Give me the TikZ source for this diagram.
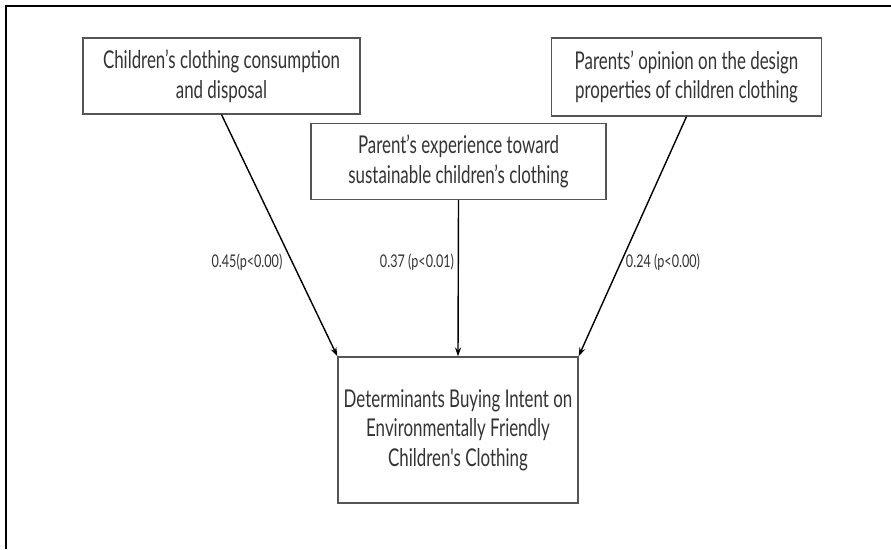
\documentclass[tikz,border=0pt]{standalone}
\usepackage{fontspec}
\setmainfont{Lato}[FakeStretch=0.69,Ligatures=TeXOff]
\newfontfamily\lblfont{Lato}[FakeStretch=0.72]
\usetikzlibrary{arrows.meta,calc}
\definecolor{txt}{HTML}{333333}
\definecolor{edge}{HTML}{555555}
\tikzset{
  box/.style={draw=edge, line width=1.2pt, align=center, text=txt, inner sep=0pt,
    font=\fontsize{24.5}{29.5}\selectfont},
  lbl/.style={text=txt, inner sep=0pt, font=\lblfont\fontsize{17.5}{20}\selectfont},
  arr/.style={draw=black, line width=1.4pt, -{Stealth[length=9pt,width=6pt]}},
}
\begin{document}
\begin{tikzpicture}[x=1pt,y=-1pt]
\useasboundingbox (0,0) rectangle (891,549);
\draw[line width=2.4pt] (6,549) -- (6,6) -- (891,6);
\node[box, minimum width=277pt, minimum height=76pt] (b1) at (221.5,76)
  {Children’s clothing consumption\\and disposal};
\node[box, minimum width=295pt, minimum height=76pt] (b2) at (458.5,161.5)
  {Parent’s experience toward\\sustainable children’s clothing};
\node[box, minimum width=270pt, minimum height=78pt] (b3) at (686.5,77)
  {Parents’ opinion on the design\\properties of children clothing};
\node[box, minimum width=240pt, minimum height=146pt] (b4) at (458,430)
  {Determinants Buying Intent on\\Environmentally Friendly\\Children's Clothing};
\draw[arr] (b1.south) -- (b4.north west);
\draw[arr] (b2.south) -- (b4.north);
\draw[arr] (b3.south) -- (b4.north east);
\node[lbl] (l1) at (247,262) {0.45(p<0.00)};
\node[lbl] (l2) at (417,262) {0.37 (p<0.01)};
\node[lbl] (l3) at (663,262) {0.24 (p<0.00)};
\end{tikzpicture}
\end{document}
